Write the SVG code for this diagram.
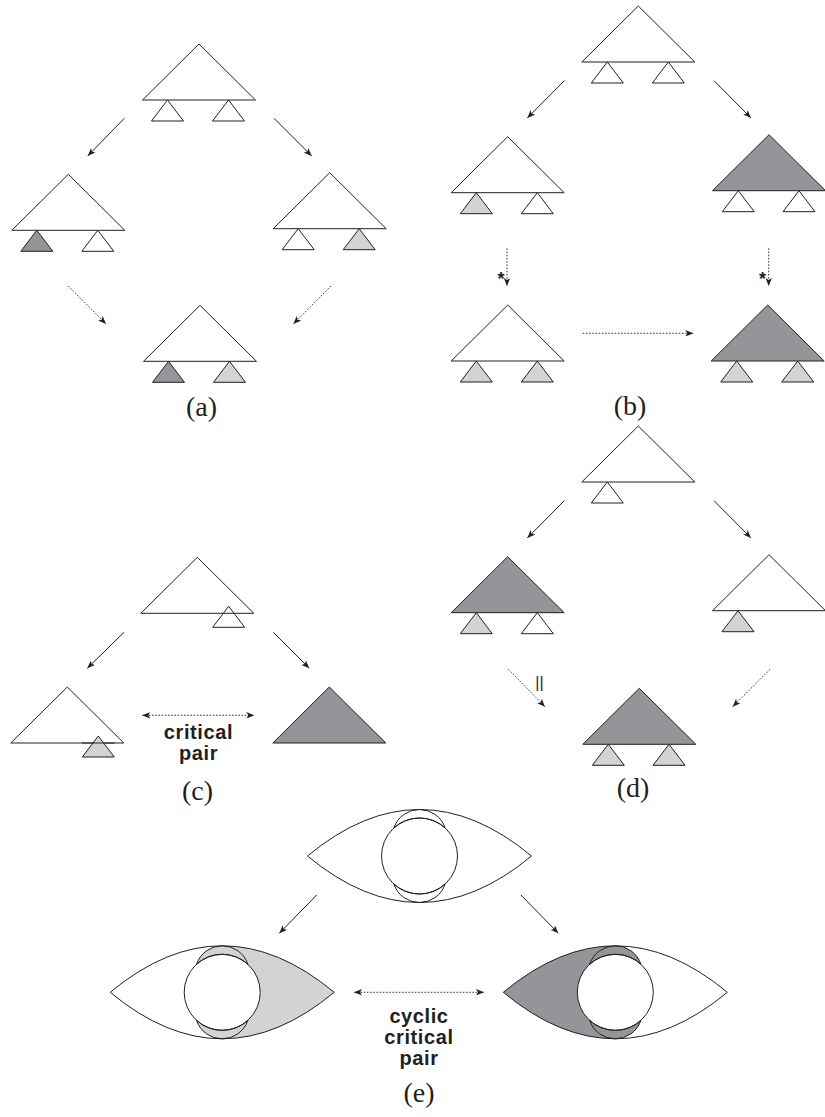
<svg xmlns="http://www.w3.org/2000/svg" xmlns:xlink="http://www.w3.org/1999/xlink" width="825" height="1117" viewBox="0 0 825 1117">
<style>
.w{fill:#ffffff}
.d{fill:#939598}
.l{fill:#d1d3d4}
.n{fill:none}
.tri{stroke:#231f20;stroke-width:1;stroke-linejoin:miter}
.solid{stroke:#231f20;stroke-width:1;fill:none;marker-end:url(#ah)}
.dot{stroke:#231f20;stroke-width:0.9;fill:none;stroke-dasharray:1.6 1.6;marker-end:url(#ah)}
.dot2{stroke:#231f20;stroke-width:0.9;fill:none;stroke-dasharray:1.6 1.6;marker-end:url(#ah);marker-start:url(#ah)}
.lab{font-family:"Liberation Serif",serif;font-size:28px;fill:#231f20;text-anchor:middle}
.cp{font-family:"Liberation Sans",Arial,sans-serif;font-weight:bold;font-size:20px;letter-spacing:0.6px;fill:#231f20;text-anchor:middle}
.sym{font-family:"Liberation Sans",Arial,sans-serif;font-weight:bold;font-size:18px;fill:#231f20;text-anchor:middle}
.eye{stroke:#231f20;stroke-width:1;fill:none}
</style>
<defs>
<marker id="ah" viewBox="0 0 10 8" refX="10" refY="4" markerWidth="8" markerHeight="6.4" markerUnits="userSpaceOnUse" orient="auto-start-reverse">
<path d="M0,0 L10,4 L0,8 L2.5,4 Z" fill="#231f20"/>
</marker>
<path id="T" class="tri" d="M0,0 L56.5,56 L-56.5,56 Z"/>
<path id="t" class="tri" d="M0,0 L16,21 L-16,21 Z"/>
<path id="eyeO" d="M-112,0 Q0,-93 112,0 Q0,93 -112,0 Z"/>
<path id="lensT" d="M-25.6,-28.1 A27,27 0 0 1 25.6,-28.1 A38,38 0 0 0 -25.6,-28.1 Z"/>
<path id="lensB" d="M-25.6,28.1 A27,27 0 0 0 25.6,28.1 A38,38 0 0 1 -25.6,28.1 Z"/>
</defs>

<!-- (a) -->
<g id="a0"><use href="#T" x="199" y="44" class="w"/><use href="#t" x="167.5" y="100" class="w"/><use href="#t" x="228.5" y="100" class="w"/></g>
<g id="a1"><use href="#T" x="68.3" y="174.3" class="w"/><use href="#t" x="36.8" y="230.3" class="d"/><use href="#t" x="97.8" y="230.3" class="w"/></g>
<g id="a2"><use href="#T" x="329.7" y="172.7" class="w"/><use href="#t" x="298.2" y="228.7" class="w"/><use href="#t" x="359.2" y="228.7" class="l"/></g>
<g id="a3"><use href="#T" x="200" y="305.3" class="w"/><use href="#t" x="168.5" y="361.3" class="d"/><use href="#t" x="229.5" y="361.3" class="l"/></g>
<text id="label-a" class="lab" x="201.5" y="416">(a)</text>

<!-- (b) -->
<g id="b0"><use href="#T" x="638.3" y="6" class="w"/><use href="#t" x="607.3" y="62" class="w"/><use href="#t" x="668.3" y="62" class="w"/></g>
<g id="b1"><use href="#T" x="507.7" y="136.7" class="w"/><use href="#t" x="476.3" y="192.7" class="l"/><use href="#t" x="537.3" y="192.7" class="w"/></g>
<g id="b2"><use href="#T" x="769" y="134.7" class="d"/><use href="#t" x="738.3" y="190.7" class="w"/><use href="#t" x="799" y="190.7" class="w"/></g>
<g id="b3"><use href="#T" x="507.7" y="305" class="w"/><use href="#t" x="476.3" y="361" class="l"/><use href="#t" x="537.3" y="361" class="l"/></g>
<g id="b4"><use href="#T" x="767.7" y="305" class="d"/><use href="#t" x="736.7" y="361" class="l"/><use href="#t" x="797.7" y="361" class="l"/></g>
<text id="label-b" class="lab" x="630" y="415">(b)</text>

<!-- (c) -->
<g id="c0"><use href="#T" x="197.3" y="557.3" class="w"/><use href="#t" x="228.7" y="606.3" class="n"/></g>
<g id="c1"><use href="#T" x="67.3" y="687" class="w"/><use href="#t" x="98.3" y="736" class="l"/><line x1="82" y1="743" x2="114.5" y2="743" stroke="#231f20" stroke-width="1"/></g>
<g id="c2"><use href="#T" x="329.3" y="687" class="d"/></g>
<text id="label-c" class="lab" x="197.5" y="800">(c)</text>

<!-- (d) -->
<g id="d0"><use href="#T" x="638.3" y="426" class="w"/><use href="#t" x="607.3" y="482" class="w"/></g>
<g id="d1"><use href="#T" x="507.7" y="556.7" class="d"/><use href="#t" x="476.3" y="612.7" class="l"/><use href="#t" x="537.3" y="612.7" class="w"/></g>
<g id="d2"><use href="#T" x="769" y="554.7" class="w"/><use href="#t" x="738" y="610.7" class="l"/></g>
<g id="d3"><use href="#T" x="639.3" y="688.3" class="d"/><use href="#t" x="608.3" y="744.3" class="l"/><use href="#t" x="669" y="744.3" class="l"/></g>
<text id="label-d" class="lab" x="633" y="797">(d)</text>

<!-- (e) -->
<g id="e0" transform="translate(419.5,856)">
<use href="#eyeO" class="eye" fill="#ffffff"/>
<circle r="38" cx="0" cy="0" class="eye" fill="#ffffff"/>
<use href="#lensT" class="eye"/>
<use href="#lensB" class="eye"/>
</g>
<g id="e1" transform="translate(222.2,992.3)">
<use href="#eyeO" fill="#ffffff"/>
<path d="M0,-46.5 Q56,-46.5 112,0 Q56,46.5 0,46.5 L0,38 A38,38 0 0 0 0,-38 Z" fill="#d1d3d4"/>
<use href="#lensT" fill="#d1d3d4"/>
<use href="#lensB" fill="#d1d3d4"/>
<use href="#eyeO" class="eye"/>
<circle r="38" cx="0" cy="0" class="eye" fill="#ffffff"/>
<use href="#lensT" class="eye"/>
<use href="#lensB" class="eye"/>
</g>
<g id="e2" transform="translate(615.3,992.3)">
<use href="#eyeO" fill="#ffffff"/>
<path d="M0,-46.5 Q-56,-46.5 -112,0 Q-56,46.5 0,46.5 L0,38 A38,38 0 0 1 0,-38 Z" fill="#939598"/>
<use href="#lensT" fill="#939598"/>
<use href="#lensB" fill="#939598"/>
<use href="#eyeO" class="eye"/>
<circle r="38" cx="0" cy="0" class="eye" fill="#ffffff"/>
<use href="#lensT" class="eye"/>
<use href="#lensB" class="eye"/>
</g>
<text id="label-e" class="lab" x="419" y="1102">(e)</text>

<!-- connectors -->
<g id="connectors">
<line class="solid" x1="124.3" y1="118.3" x2="87.7" y2="156"/>
<line class="solid" x1="274" y1="118.3" x2="311.7" y2="156"/>
<line class="dot" x1="68.3" y1="286" x2="106" y2="324"/>
<line class="dot" x1="331" y1="286" x2="293.3" y2="324"/>

<line class="solid" x1="564.3" y1="80.7" x2="527.3" y2="118"/>
<line class="solid" x1="714" y1="80.7" x2="751" y2="118"/>
<line class="dot" x1="507" y1="248.3" x2="507" y2="286"/>
<line class="dot" x1="768.7" y1="248.3" x2="768.7" y2="286"/>
<line class="dot" x1="582.7" y1="333.3" x2="693.3" y2="333.3"/>
<text class="sym" x="501" y="284.5">*</text>
<text class="sym" x="762.5" y="284.5">*</text>

<line class="solid" x1="124" y1="632.3" x2="87.3" y2="668.3"/>
<line class="solid" x1="273.3" y1="632.3" x2="309.3" y2="668.3"/>
<line class="dot2" x1="142.3" y1="715.3" x2="254.3" y2="715.3"/>
<text class="cp" x="198.5" y="739">critical</text>
<text class="cp" x="198.5" y="760">pair</text>

<line class="solid" x1="564.3" y1="500.7" x2="527.3" y2="538"/>
<line class="solid" x1="714" y1="500.7" x2="751" y2="538"/>
<line class="dot" x1="508.3" y1="669.3" x2="545" y2="706.7"/>
<line class="dot" x1="770" y1="669.3" x2="732.7" y2="706.7"/>
<text x="539.5" y="688.3" font-family="Liberation Sans, Arial, sans-serif" font-size="16" fill="#231f20" text-anchor="middle">||</text>

<line class="solid" x1="316.7" y1="895" x2="279.3" y2="933.3"/>
<line class="solid" x1="521" y1="895" x2="558.3" y2="933.3"/>
<line class="dot2" x1="354" y1="992.3" x2="484" y2="992.3"/>
<text class="cp" x="419" y="1022.5">cyclic</text>
<text class="cp" x="419" y="1043.5">critical</text>
<text class="cp" x="419" y="1064.5">pair</text>
</g>
</svg>
